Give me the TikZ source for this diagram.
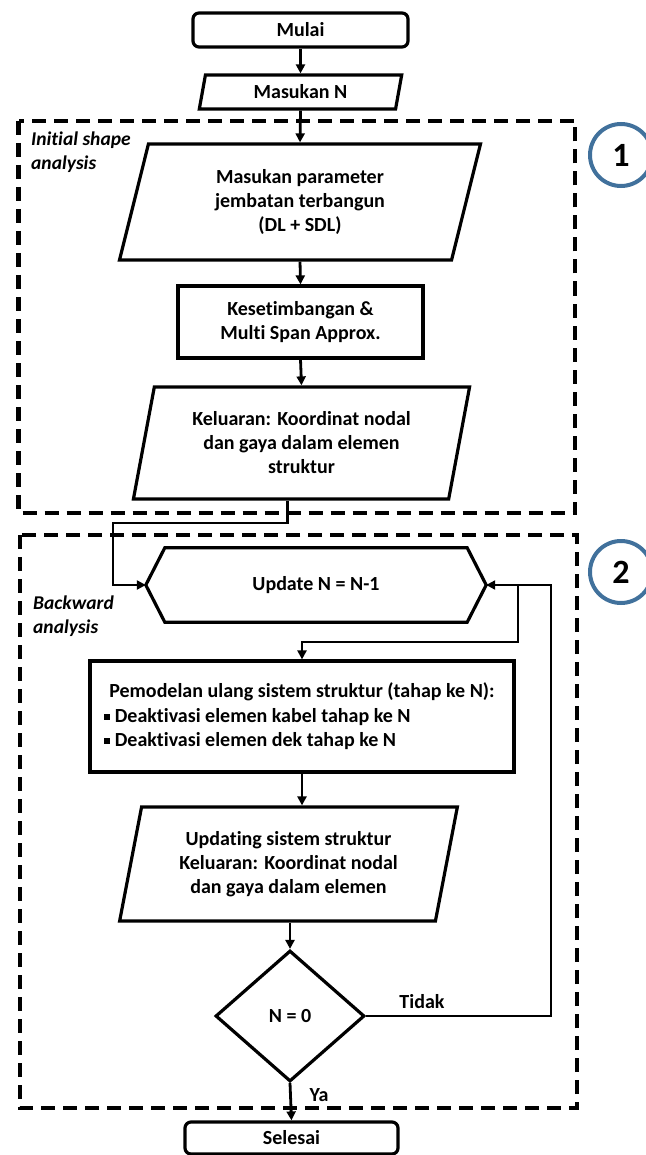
\documentclass[tikz,border=0pt]{standalone}
\usepackage{fontspec}
\setmainfont{Carlito}[Ligatures=NoCommon]
\usetikzlibrary{shapes.geometric,arrows.meta}
\definecolor{ringblue}{HTML}{41719C}

\begin{document}
\begin{tikzpicture}[x=1pt, y=-1pt,
    txt/.style={font=\bfseries\fontsize{20}{24}\selectfont, align=center, inner sep=0pt},
    box/.style={txt, draw, line width=3.2pt},
    term/.style={box, rounded corners=6pt},
    para/.style={box, trapezium, trapezium left angle=76, trapezium right angle=104, trapezium stretches=true},
    conn/.style={line width=2.8pt, -{Triangle[length=9pt,width=9pt]}},
    zone/.style={line width=4.4pt, dash pattern=on 14pt off 8pt},
    ring/.style={circle, draw=ringblue, line width=4pt, minimum size=62pt, inner sep=0pt, font=\bfseries\fontsize{34}{34}\selectfont},
    tag/.style={font=\bfseries\itshape\fontsize{19.5}{24}\selectfont, align=left, inner sep=0pt, anchor=west}]
    \useasboundingbox (0,0) rectangle (645,1155);

    \draw[zone] (18.5,121) rectangle (575,513);
    \draw[zone] (20,535) rectangle (577,1108);
    \node[ring] (r1) at (621,155) {1};
    \node[ring] (r2) at (621,572) {2};
    \node[tag] (t1) at (31,152) {Initial shape\\analysis};
    \node[tag] (t2) at (33,616) {Backward\\analysis};

    \node[term, minimum width=215pt, minimum height=34pt] (mulai) at (300.5,30) {Mulai};
    \node[para, trapezium left angle=78, trapezium right angle=102, minimum width=203pt, minimum height=34pt] (masuk) at (300.5,92) {Masukan N};
    \node[para, minimum width=362pt, minimum height=116pt] (param) at (300,202) {Masukan parameter\\jembatan terbangun\\(DL + SDL)};
    \node[box, minimum width=245pt, minimum height=72pt] (setimbang) at (300.5,322) {Kesetimbangan \&\\Multi Span Approx.};
    \node[para, minimum width=337pt, minimum height=112pt] (keluar) at (301.5,443) {Keluaran: Koordinat nodal\\dan gaya dalam elemen\\struktur};
    \node[txt, minimum width=340pt, minimum height=74pt] (update) at (316,585) {Update N = N-1};
    \draw[line width=3.2pt] (update.west) -- ([xshift=19pt]update.north west) -- ([xshift=-19pt]update.north east) -- (update.east) -- ([xshift=-19pt]update.south east) -- ([xshift=19pt]update.south west) -- cycle;
    \node[box, minimum width=424pt, minimum height=111pt, align=left] (model) at (302,716.5) {Pemodelan ulang sistem struktur (tahap ke N):\\[1pt]
        \hspace*{-5pt}\rule[3pt]{6pt}{6pt}\ Deaktivasi elemen kabel tahap ke N\\
        \hspace*{-5pt}\rule[3pt]{6pt}{6pt}\ Deaktivasi elemen dek tahap ke N};
    \node[para, minimum width=339pt, minimum height=114pt] (updating) at (288.5,864) {Updating sistem struktur\\Keluaran: Koordinat nodal\\dan gaya dalam elemen};
    \node[box, diamond, aspect=1.14, minimum width=149pt, minimum height=131pt] (cek) at (290,1016) {N = 0};
    \node[term, minimum width=213pt, minimum height=32pt] (selesai) at (291.5,1138) {Selesai};

    \coordinate (k1) at (113,523);
    \coordinate (u1) at (518,642);
    \coordinate (b1) at (551,585);

    \draw[conn] (mulai) -- (masuk);
    \draw[conn] (masuk.south) -- (param.north);
    \draw[conn] (param.south) -- (setimbang.north);
    \draw[conn] (setimbang.south) -- (keluar.north);
    \draw[conn] ([xshift=-14pt]keluar.south) |- (k1) |- (update.west);
    \draw[conn] (update.east) -| (u1) -| (model.north);
    \draw[conn] (model.south) -- (model.south |- updating.north);
    \draw[conn] (cek.north |- updating.south) -- (cek.north);
    \draw[conn] (cek.east) -| (b1) -- (update.east);
    \draw[conn] (cek.south) -- (selesai.north);
    \node[txt] (tidak) at (422,1002) {Tidak};
    \node[txt] (ya) at (319,1095) {Ya};
\end{tikzpicture}
\end{document}
